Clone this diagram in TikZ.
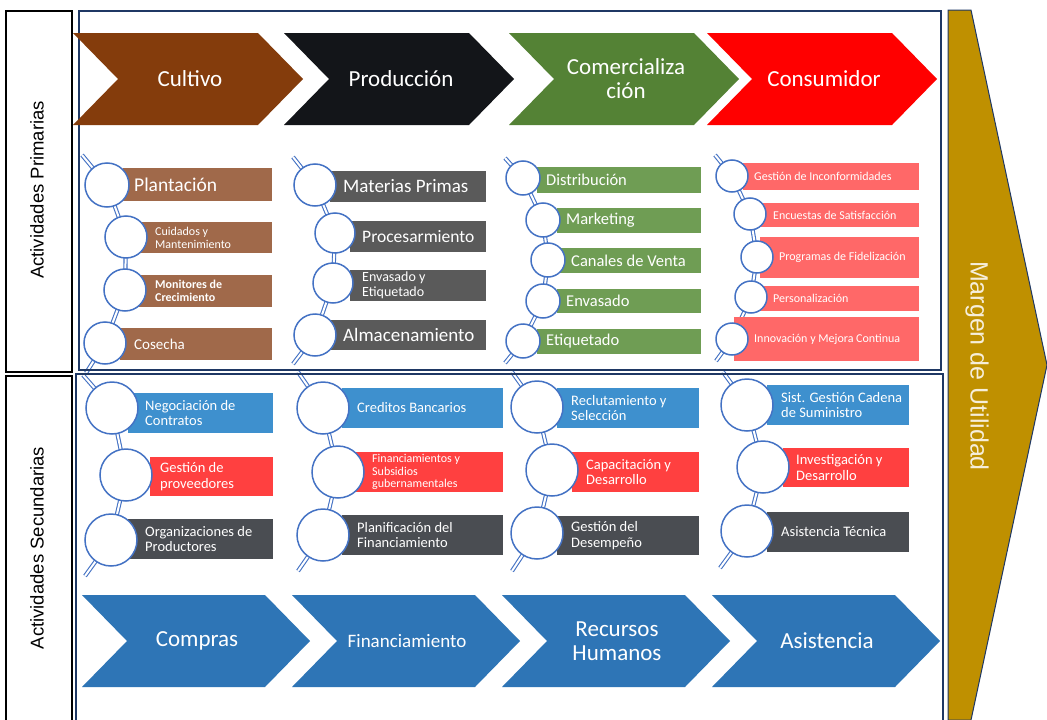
\documentclass[tikz,border=0pt]{standalone}
\usepackage{fontspec}
\setmainfont{Carlito}
\newfontfamily\arialf{Liberation Sans}
\definecolor{cbrown}{HTML}{843C0C}
\definecolor{cblack}{HTML}{131519}
\definecolor{cgreen}{HTML}{548235}
\definecolor{cred}{HTML}{FF0000}
\definecolor{cblue}{HTML}{2E75B6}
\definecolor{cgold}{HTML}{BF9000}
\definecolor{cnavy}{HTML}{1F3864}
\definecolor{ccirc}{HTML}{4472C4}
\definecolor{rbrown}{HTML}{A0694A}
\definecolor{rgray}{HTML}{5A5A5A}
\definecolor{rgreen}{HTML}{6F9D54}
\definecolor{rpink}{HTML}{FF6868}
\definecolor{rblue}{HTML}{3E90CE}
\definecolor{rred}{HTML}{FF4040}
\definecolor{rdark}{HTML}{4A4D52}
\definecolor{cream}{HTML}{F6EEDA}
\pgfdeclarelayer{back}
\pgfdeclarelayer{chainlayer}
\pgfsetlayers{back,chainlayer,main}
\tikzset{
  rbx/.style={rectangle, inner sep=0pt, draw=none},
  circ/.style={circle, fill=white, draw=ccirc, line width=1.5pt, inner sep=0pt},
  lb/.style={anchor=west, inner sep=0pt, text=white, align=left},
  chainline/.style={draw=ccirc, line width=1.1pt, double=white, double distance=2pt},
  chevtext/.style={inner sep=0pt, text=white, align=center, font=\fontsize{23}{24}\selectfont},
  labelbox/.style={draw=black, line width=1.2pt},
  contentbox/.style={draw=cnavy, line width=1.3pt},
}
\newcommand\rbox[6]{\node[rbx, fill=#6, anchor=north west, minimum width={(#4-#2)*1pt}, minimum height={(#5-#3)*1pt}] (#1) at (#2,#3) {};}
\newcommand\cir[4]{\node[circ, minimum size={2*#4*1pt}] (#1) at (#2,#3) {};}
\newcommand\lbl[6]{\node[lb, font=\fontsize{#4}{#5}\selectfont] (#1) at (#2,#3) {#6};}
\newcommand\chev[7]{%
  \fill[#5] (#2,#3) -- ++(#4-45,0) -- ++(45,46) -- ++(-45,46) -- ++(-#4+45,0) -- ++(45,-46) -- cycle;
  \node[chevtext] (#1) at (#2+#7,#3+46) {#6};}
\begin{document}
\begin{tikzpicture}[x=1pt, y=-1pt]
\useasboundingbox (0,0) rectangle (1047,720);
\clip (0,0) rectangle (1047,720);
\begin{pgfonlayer}{back}
\fill[white] (0,0) rectangle (1047,720);
\end{pgfonlayer}

% frames
\draw[labelbox] (6,11) rectangle (72,372);
\draw[labelbox] (6,376) rectangle (72,730);
\draw[contentbox] (79,11) rectangle (941,370);
\draw[contentbox, line width=1.8pt] (76,374) rectangle (943,730);
\node[rotate=90, inner sep=0pt, font=\arialf\fontsize{18.5}{22}\selectfont] (lprim) at (37,190) {Actividades Primarias};
\node[rotate=90, inner sep=0pt, font=\arialf\fontsize{18.5}{22}\selectfont] (lsec) at (37,548) {Actividades Secundarias};

% margin arrow
\filldraw[fill=cgold, draw=cnavy, line width=1pt] (948,10) -- (971,10) -- (1047,365) -- (971,720) -- (948,720) -- cycle;
\node[rotate=-90, inner sep=0pt, text=cream, font=\arialf\fontsize{25}{28}\selectfont] (margen) at (977,366) {Margen de Utilidad};

% top chevrons
\chev{cultivo}{73}{33}{230}{cbrown}{Cultivo}{117}
\chev{produccion}{284}{33}{230}{cblack}{Producción}{117}
\chev{comercial}{509}{33}{230}{cgreen}{Comercializa\\ción}{117}
\chev{consumidor}{707}{33}{230}{cred}{Consumidor}{117}

% bottom chevrons
\chev{compras}{82}{595}{228}{cblue}{Compras}{115}
\chev{financ}{292}{595}{228}{cblue}{\fontsize{19}{22}\selectfont Financiamiento}{115}
\chev{rrhh}{502}{595}{228}{cblue}{Recursos\\Humanos}{115}
\chev{asist}{712}{595}{228}{cblue}{Asistencia}{115}

% ---------- primary column 1
\rbox{ra1}{123}{168}{272}{201}{rbrown}
\rbox{ra2}{138}{222}{272}{253}{rbrown}
\rbox{ra3}{138}{275}{272}{307}{rbrown}
\rbox{ra4}{120}{328}{272}{360}{rbrown}
\cir{ca1}{107}{185}{22}
\cir{ca2}{126}{237}{21}
\cir{ca3}{125}{290}{21}
\cir{ca4}{105}{343}{21}
\lbl{ta1}{134}{184.5}{19.5}{22}{Plantación}
\lbl{ta2}{155}{237.5}{12}{13}{Cuidados y\\Mantenimiento}
\lbl{ta3}{155}{291}{12}{13}{\bfseries Monitores de\\\bfseries Crecimiento}
\lbl{ta4}{134}{344}{15}{17}{Cosecha}
\coordinate (ka0) at (82,155);
\coordinate (ka5) at (86,373);
\begin{pgfonlayer}{chainlayer}
\draw[chainline] (ka0) -- (ca1.center) -- (ca2.center) -- (ca3.center) -- (ca4.center) -- (ka5);
\end{pgfonlayer}

% ---------- primary column 2
\rbox{rb1}{330}{171}{486}{202}{rgray}
\rbox{rb2}{350}{221}{486}{252}{rgray}
\rbox{rb3}{350}{270}{486}{301}{rgray}
\rbox{rb4}{330}{320}{486}{350}{rgray}
\cir{cb1}{315}{185}{21}
\cir{cb2}{335}{233}{20}
\cir{cb3}{333}{283}{20}
\cir{cb4}{315}{335}{21}
\lbl{tb1}{343}{186.5}{19}{22}{Materias Primas}
\lbl{tb2}{362}{236.5}{17.5}{20}{Procesarmiento}
\lbl{tb3}{362}{285.5}{14}{15}{Envasado y\\Etiquetado}
\lbl{tb4}{343}{335}{19}{22}{Almacenamiento}
\coordinate (kb0) at (293,157);
\coordinate (kb5) at (293,364);
\begin{pgfonlayer}{chainlayer}
\draw[chainline] (kb0) -- (cb1.center) -- (cb2.center) -- (cb3.center) -- (cb4.center) -- (kb5);
\end{pgfonlayer}

% ---------- primary column 3
\rbox{rc1}{537}{167}{701}{193}{rgreen}
\rbox{rc2}{557}{208}{701}{233}{rgreen}
\rbox{rc3}{560}{248}{701}{273}{rgreen}
\rbox{rc4}{557}{289}{701}{313}{rgreen}
\rbox{rc5}{537}{329}{701}{354}{rgreen}
\cir{cc1}{523}{178}{17}
\cir{cc2}{543}{220}{17}
\cir{cc3}{548}{260}{17}
\cir{cc4}{543}{301}{17}
\cir{cc5}{523}{341}{17}
\lbl{tc1}{546}{180}{16.5}{19}{Distribución}
\lbl{tc2}{566}{220.5}{16.5}{19}{Marketing}
\lbl{tc3}{571}{260.5}{16.5}{19}{Canales de Venta}
\lbl{tc4}{566}{301}{16.5}{19}{Envasado}
\lbl{tc5}{546}{341.5}{16.5}{19}{Etiquetado}
\coordinate (kc0) at (505,158);
\coordinate (kc6) at (505,363);
\begin{pgfonlayer}{chainlayer}
\draw[chainline] (kc0) -- (cc1.center) -- (cc2.center) -- (cc3.center) -- (cc4.center) -- (cc5.center) -- (kc6);
\end{pgfonlayer}

% ---------- primary column 4
\rbox{rd1}{743}{163}{919}{190}{rpink}
\rbox{rd2}{760}{203}{919}{227}{rpink}
\rbox{rd3}{760}{237}{919}{278}{rpink}
\rbox{rd4}{760}{286}{919}{311}{rpink}
\rbox{rd5}{734}{317}{919}{361}{rpink}
\cir{cd1}{732}{176}{16}
\cir{cd2}{750}{214}{16}
\cir{cd3}{757}{257}{16}
\cir{cd4}{751}{297}{16}
\cir{cd5}{732}{339}{16}
\lbl{td1}{754}{176.5}{12}{14}{Gestión de Inconformidades}
\lbl{td2}{773}{215}{12}{14}{Encuestas de Satisfacción}
\lbl{td3}{779}{257.5}{12}{14}{Programas de Fidelización}
\lbl{td4}{773}{298.5}{12}{14}{Personalización}
\lbl{td5}{754}{339}{12}{14}{Innovación y Mejora Continua}
\coordinate (kd0) at (715,155);
\coordinate (kd6) at (716,361);
\begin{pgfonlayer}{chainlayer}
\draw[chainline] (kd0) -- (cd1.center) -- (cd2.center) -- (cd3.center) -- (cd4.center) -- (cd5.center) -- (kd6);
\end{pgfonlayer}

% ---------- secondary column 1
\rbox{re1}{128}{393}{273}{433}{rblue}
\rbox{re2}{150}{457}{273}{496}{rred}
\rbox{re3}{128}{519}{273}{559}{rdark}
\cir{ce1}{112}{408}{26}
\cir{ce2}{126}{475}{26}
\cir{ce3}{111}{540}{26}
\lbl{te1}{145}{413}{14.5}{15.5}{Negociación de\\Contratos}
\lbl{te2}{160}{476.5}{14.5}{15.5}{Gestión de\\proveedores}
\lbl{te3}{145}{539}{14.5}{15.5}{Organizaciones de\\Productores}
\coordinate (ke0) at (83,375);
\coordinate (ke4) at (85,576);
\begin{pgfonlayer}{chainlayer}
\draw[chainline] (ke0) -- (ce1.center) -- (ce2.center) -- (ce3.center) -- (ke4);
\end{pgfonlayer}

% ---------- secondary column 2
\rbox{rf1}{342}{388}{503}{428}{rblue}
\rbox{rf2}{355}{452}{503}{492}{rred}
\rbox{rf3}{342}{515}{503}{555}{rdark}
\cir{cf1}{323}{408}{26}
\cir{cf2}{338}{472}{26}
\cir{cf3}{323}{535}{26}
\lbl{tf1}{357}{408}{14.5}{15.5}{Creditos Bancarios}
\lbl{tf2}{372}{472}{12}{12.3}{Financiamientos y\\Subsidios\\gubernamentales}
\lbl{tf3}{357}{535}{14.5}{15.5}{Planificación del\\Financiamiento}
\coordinate (kf0) at (298,372);
\coordinate (kf4) at (298,571);
\begin{pgfonlayer}{chainlayer}
\draw[chainline] (kf0) -- (cf1.center) -- (cf2.center) -- (cf3.center) -- (kf4);
\end{pgfonlayer}

% ---------- secondary column 3
\rbox{rg1}{557}{388}{699}{428}{rblue}
\rbox{rg2}{572}{452}{699}{492}{rred}
\rbox{rg3}{557}{516}{699}{555}{rdark}
\cir{cg1}{537}{407}{26}
\cir{cg2}{552}{470}{26}
\cir{cg3}{537}{533}{26}
\lbl{tg1}{571}{408}{14.5}{15.5}{Reclutamiento y\\Selección}
\lbl{tg2}{586}{472}{14.5}{15.5}{Capacitación y\\Desarrollo}
\lbl{tg3}{571}{535.5}{14.5}{15.5}{Gestión del\\Desempeño}
\coordinate (kg0) at (512,372);
\coordinate (kg4) at (512,571);
\begin{pgfonlayer}{chainlayer}
\draw[chainline] (kg0) -- (cg1.center) -- (cg2.center) -- (cg3.center) -- (kg4);
\end{pgfonlayer}

% ---------- secondary column 4
\rbox{rh1}{767}{385}{909}{425}{rblue}
\rbox{rh2}{783}{448}{909}{487}{rred}
\rbox{rh3}{767}{512}{909}{552}{rdark}
\cir{ch1}{747}{405}{26}
\cir{ch2}{763}{467}{26}
\cir{ch3}{747}{531}{26}
\lbl{th1}{781}{405}{14.5}{15.5}{Sist. Gestión Cadena\\de Suministro}
\lbl{th2}{796}{467.5}{14.5}{15.5}{Investigación y\\Desarrollo}
\lbl{th3}{781}{532}{14.5}{15.5}{Asistencia Técnica}
\coordinate (kh0) at (723,372);
\coordinate (kh4) at (720,568);
\begin{pgfonlayer}{chainlayer}
\draw[chainline] (kh0) -- (ch1.center) -- (ch2.center) -- (ch3.center) -- (kh4);
\end{pgfonlayer}
\end{tikzpicture}
\end{document}
